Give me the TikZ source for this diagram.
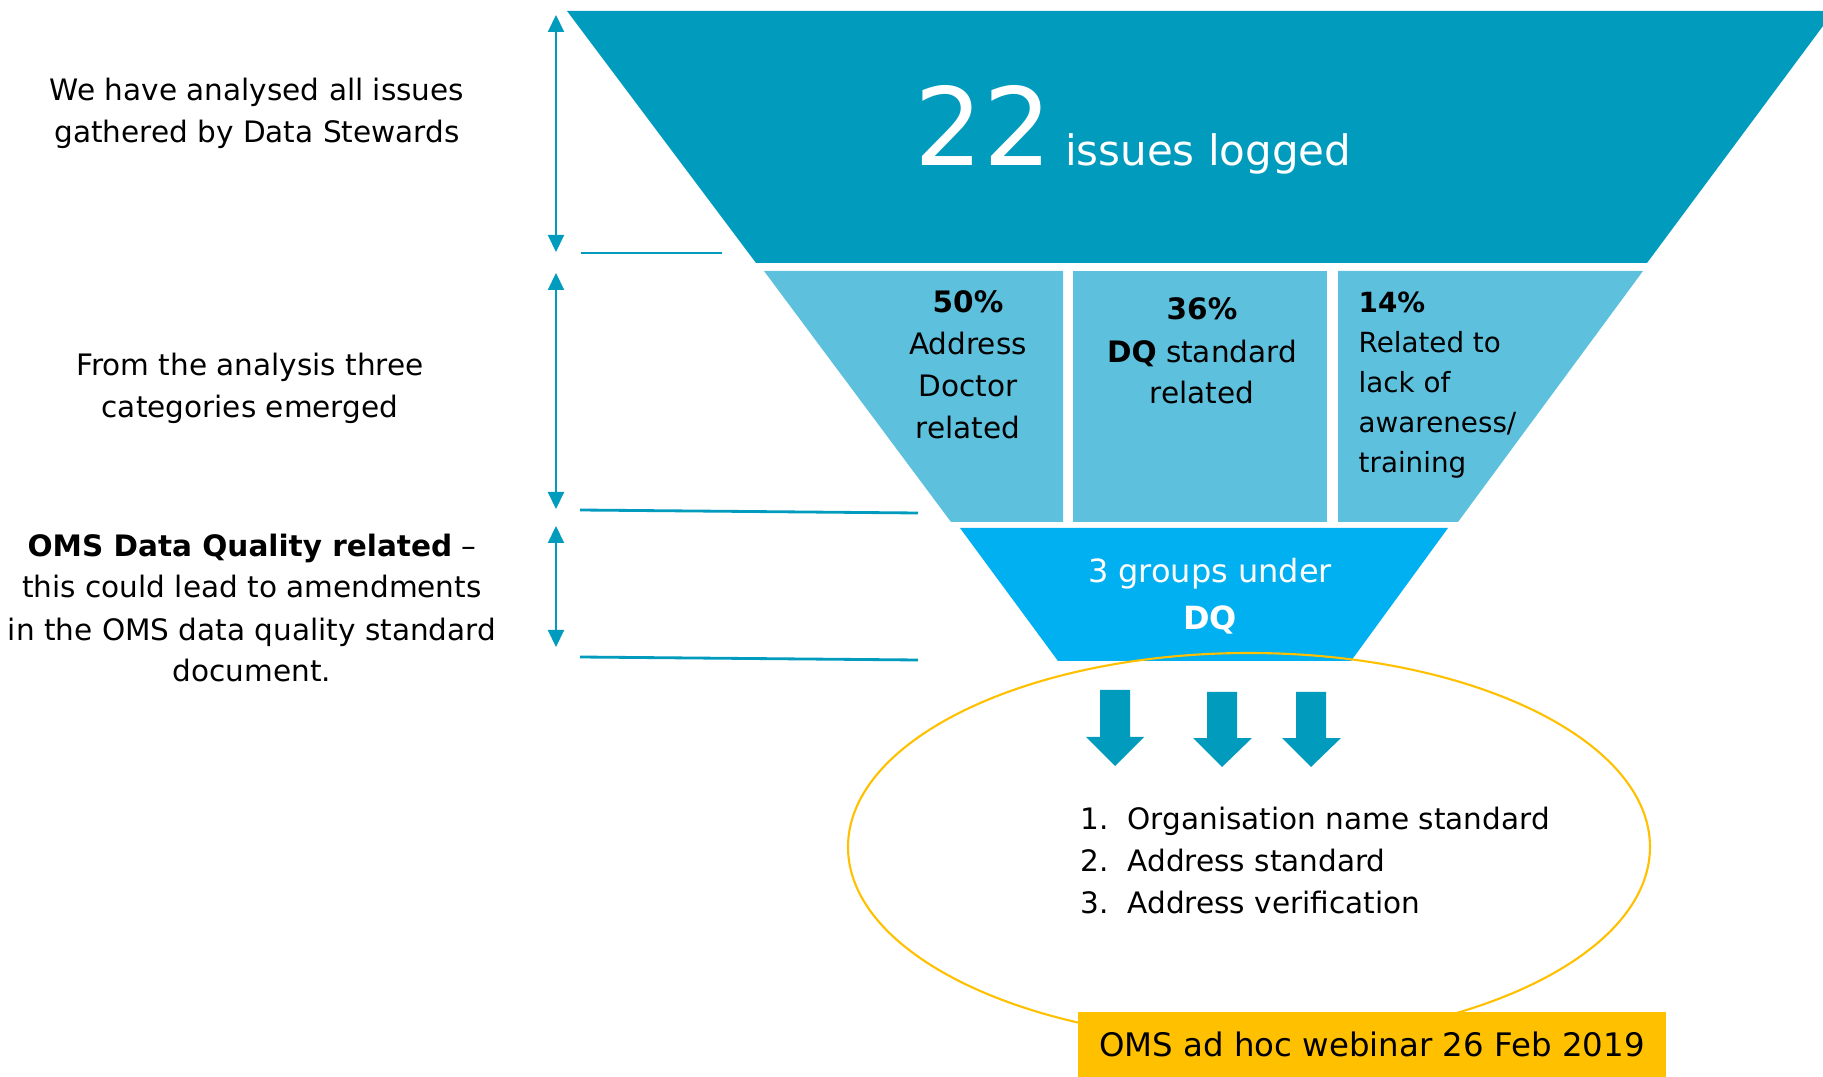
\documentclass[tikz,border=0pt]{standalone}
\usepackage{fontspec}
\setmainfont{DejaVu Sans}
\usetikzlibrary{arrows.meta}
\definecolor{funnelA}{RGB}{0,155,189}
\definecolor{funnelB}{RGB}{93,193,221}
\definecolor{funnelC}{RGB}{0,176,240}
\definecolor{webgold}{RGB}{255,192,0}
\newcommand{\bodysize}{\fontsize{8.4}{11.95}\selectfont}

\begin{document}
\begin{tikzpicture}[
    txt/.style={inner sep=0pt, align=center, font=\bodysize},
    span/.style={funnelA, line width=0.6pt, {Triangle[width=1.6mm,length=1.7mm]}-{Triangle[width=1.6mm,length=1.7mm]}},
    guide/.style={funnelA, line width=0.8pt}
]
    \useasboundingbox (0,0) rectangle (18.23,-10.77);

    % Funnel top (all issues)
    \fill[funnelA] (5.67,-0.11) -- (18.23,-0.11) -- (18.23,-0.26) -- (16.47,-2.63) -- (7.56,-2.63) -- cycle;
    \node[inner sep=0pt, white, anchor=base west] (logged) at (9.14,-1.66) {\fontsize{30.7}{32}\selectfont 22\hspace{1.3mm}\fontsize{11.95}{14}\selectfont issues logged};

    % Funnel middle (three categories)
    \fill[funnelB] (7.64,-2.71) -- (10.63,-2.71) -- (10.63,-5.22) -- (9.51,-5.22) -- cycle;
    \fill[funnelB] (10.73,-2.71) rectangle (13.27,-5.22);
    \fill[funnelB] (13.38,-2.71) -- (16.43,-2.71) -- (14.58,-5.22) -- (13.38,-5.22) -- cycle;
    \node[txt, anchor=base] (addr) at (9.68,-4.39) {\textbf{50\%}\\Address\\Doctor\\related};
    \node[txt, anchor=base] (dqstd) at (12.02,-4.04) {\textbf{36\%}\\\textbf{DQ} standard\\related};
    \node[txt, anchor=base west, align=left, font=\fontsize{7.9}{11.4}\selectfont] (aware) at (13.58,-4.73) {\textbf{14\%}\\Related to\\lack of\\awareness/\\training};

    % Funnel bottom (DQ groups)
    \fill[funnelC] (9.60,-5.28) -- (14.48,-5.28) -- (13.51,-6.61) -- (10.58,-6.61) -- cycle;
    \node[txt, anchor=base, white, font=\fontsize{9.1}{13.4}\selectfont] (groups) at (12.10,-6.30) {3 groups under\\\textbf{DQ}};

    % Outcome
    \draw[webgold, line width=0.6pt] (12.49,-8.47) ellipse (4.01 and 1.94);
    \fill[funnelA] (11.00,-6.90) -- (11.30,-6.90) -- (11.30,-7.37) -- (11.44,-7.37) -- (11.15,-7.66) -- (10.86,-7.37) -- (11.00,-7.37) -- cycle;
    \fill[funnelA] (12.07,-6.92) -- (12.37,-6.92) -- (12.37,-7.38) -- (12.52,-7.38) -- (12.22,-7.67) -- (11.93,-7.38) -- (12.07,-7.38) -- cycle;
    \fill[funnelA] (12.96,-6.92) -- (13.26,-6.92) -- (13.26,-7.38) -- (13.41,-7.38) -- (13.11,-7.67) -- (12.82,-7.38) -- (12.96,-7.38) -- cycle;
    \node[txt, anchor=base west, align=left] (list) at (10.80,-9.13) {\makebox[4.7mm][l]{1.}Organisation name standard\\\makebox[4.7mm][l]{2.}Address standard\\\makebox[4.7mm][l]{3.}Address verification};
    \node[fill=webgold, inner sep=0pt, minimum width=5.88cm, minimum height=0.65cm, font=\fontsize{9.22}{11}\selectfont] (webinar) at (13.72,-10.445) {OMS ad hoc webinar 26 Feb 2019};

    % Left side notes
    \node[txt, anchor=base] (intro) at (2.57,-1.43) {We have analysed all issues\\gathered by Data Stewards};
    \node[txt, anchor=base] (emerged) at (2.50,-4.18) {From the analysis three\\categories emerged};
    \node[txt, anchor=base] (dqnote) at (2.52,-6.82) {\textbf{OMS Data Quality related} --\\this could lead to amendments\\in the OMS data quality standard\\document.};

    % Spans and guide lines
    \coordinate (s1a) at (5.56,-0.15);
    \coordinate (s1b) at (5.56,-2.52);
    \coordinate (s2a) at (5.56,-2.73);
    \coordinate (s2b) at (5.56,-5.09);
    \coordinate (s3a) at (5.56,-5.26);
    \coordinate (s3b) at (5.56,-6.47);
    \draw[span] (s1a) -- (s1b);
    \draw[span] (s2a) -- (s2b);
    \draw[span] (s3a) -- (s3b);
    \coordinate (g1a) at (5.81,-2.53);
    \coordinate (g1b) at (7.22,-2.53);
    \coordinate (g2a) at (5.80,-5.10);
    \coordinate (g2b) at (9.18,-5.13);
    \coordinate (g3a) at (5.80,-6.57);
    \coordinate (g3b) at (9.18,-6.60);
    \draw[guide] (g1a) -- (g1b);
    \draw[guide] (g2a) -- (g2b);
    \draw[guide] (g3a) -- (g3b);
\end{tikzpicture}
\end{document}
